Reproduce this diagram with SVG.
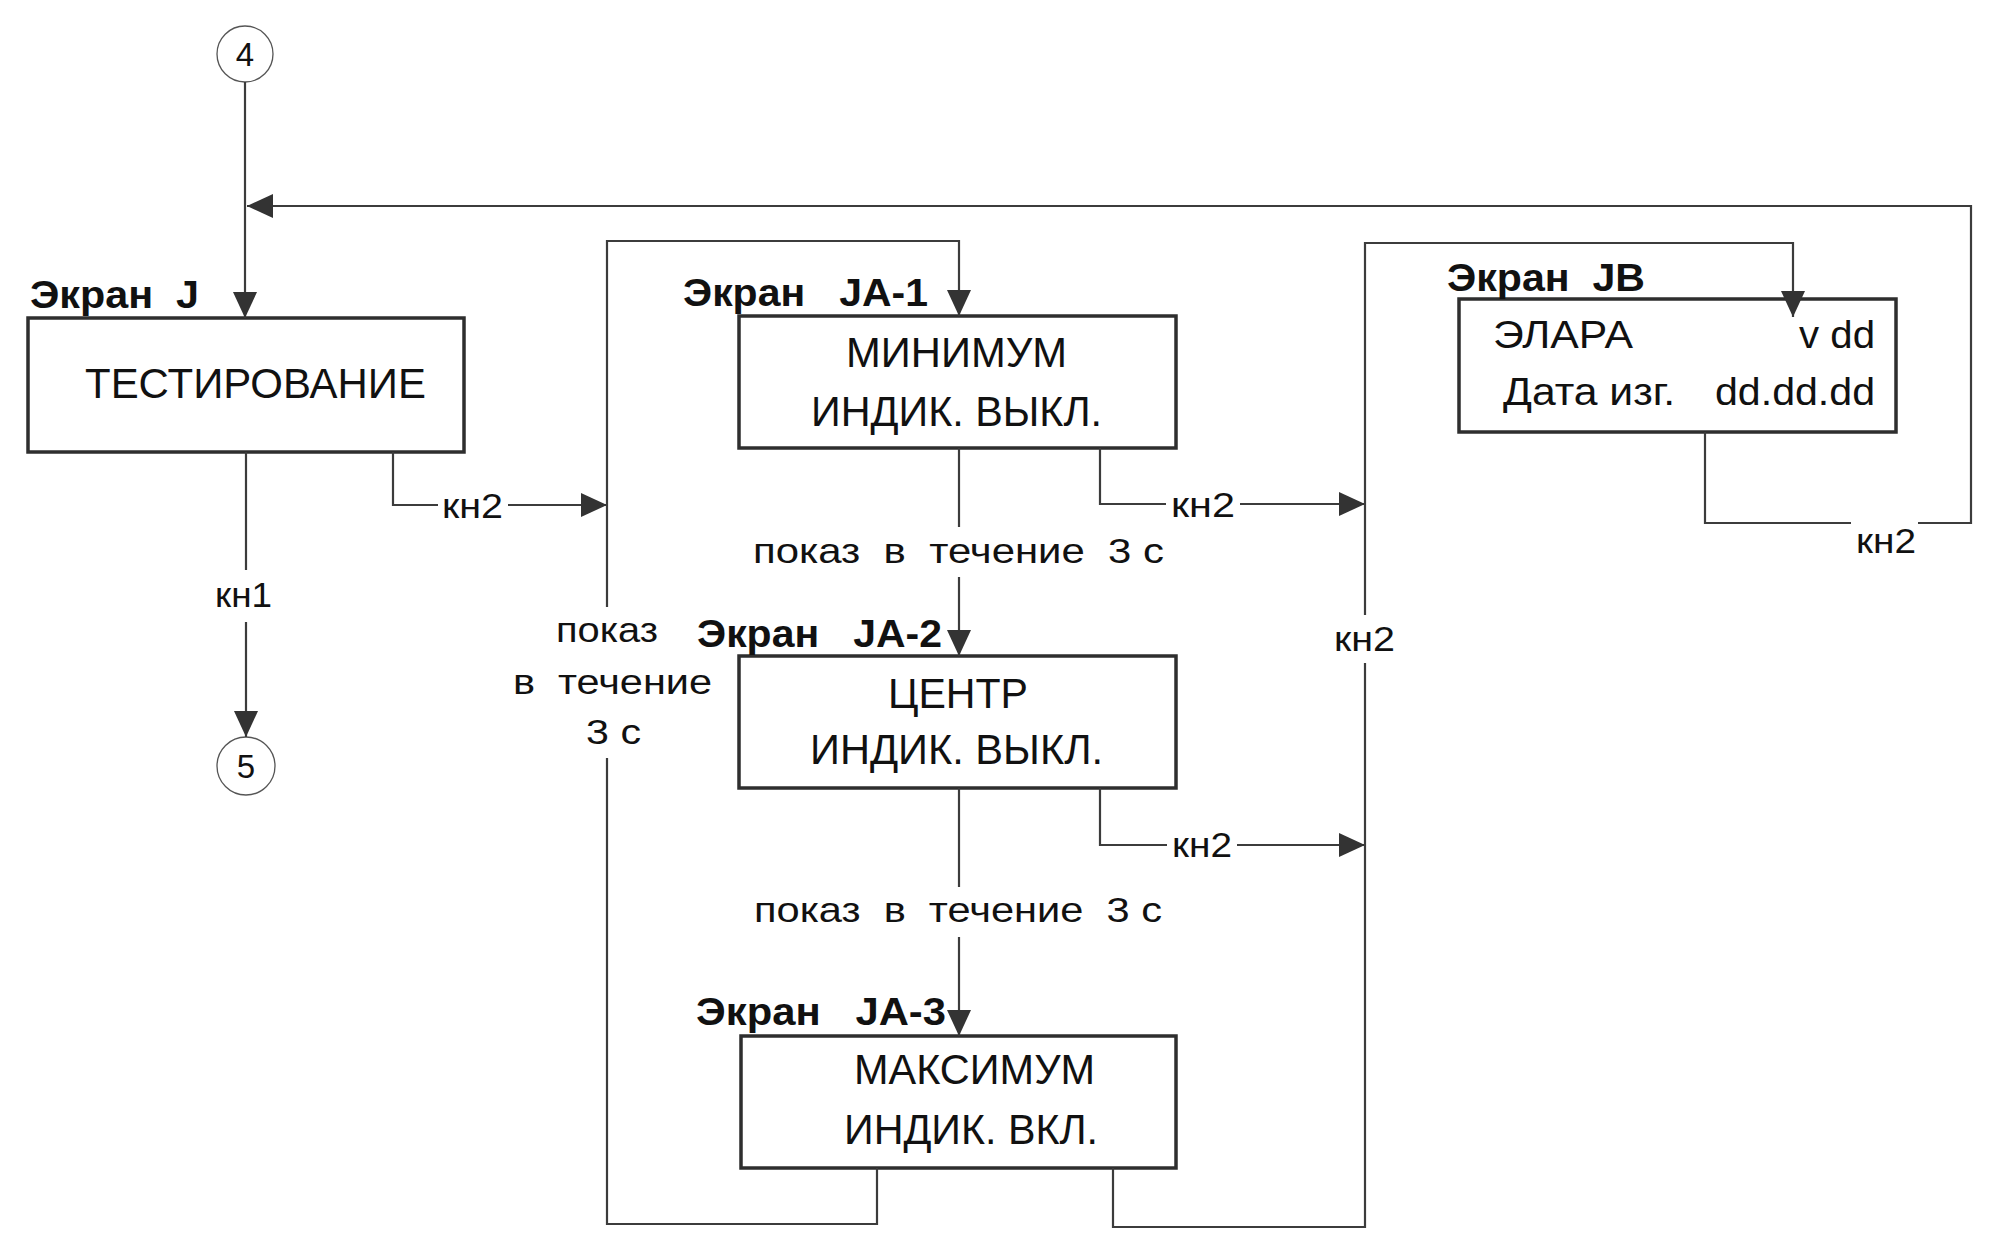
<svg xmlns="http://www.w3.org/2000/svg" width="2000" height="1260" viewBox="0 0 2000 1260">
<style>
.box{fill:#fff;stroke:#2e2e2e;stroke-width:3.5}
.ln{fill:none;stroke:#3c3c3c;stroke-width:2.2}
.circ{fill:#fff;stroke:#555;stroke-width:1.3}
text{font-family:"Liberation Sans",Arial,sans-serif;fill:#111}
.hdr{font-size:39px;font-weight:bold}
.main{font-size:43px}
.jb{font-size:38px}
.lbl{font-size:35px}
.num{font-size:33px;text-anchor:middle}
.bg{fill:#fff;stroke:none}
</style>
<defs>
<marker id="ah" markerUnits="userSpaceOnUse" markerWidth="26" markerHeight="24" refX="26" refY="12" orient="auto">
<path d="M0,0 L26,12 L0,24 z" fill="#333"/>
</marker>
</defs>
<rect width="2000" height="1260" fill="#fff"/>

<g id="c4">
<circle class="circ" cx="245" cy="54" r="28"/>
<text class="num" x="245" y="66">4</text>
</g>
<g id="c5">
<circle class="circ" cx="246" cy="766" r="29"/>
<text class="num" x="246" y="778">5</text>
</g>

<g id="screenJ">
<rect class="box" x="28" y="318" width="436" height="134"/>
<text class="hdr" x="30" y="308" textLength="169" lengthAdjust="spacingAndGlyphs" xml:space="preserve">Экран  J</text>
<text class="main" x="85" y="398" textLength="341" lengthAdjust="spacingAndGlyphs">ТЕСТИРОВАНИЕ</text>
</g>

<g id="screenJA1">
<rect class="box" x="739" y="316" width="437" height="132"/>
<text class="hdr" x="683" y="306" textLength="245" lengthAdjust="spacingAndGlyphs" xml:space="preserve">Экран   JA-1</text>
<text class="main" x="846" y="367" textLength="221" lengthAdjust="spacingAndGlyphs">МИНИМУМ</text>
<text class="main" x="811" y="426" textLength="291" lengthAdjust="spacingAndGlyphs">ИНДИК. ВЫКЛ.</text>
</g>

<g id="screenJA2">
<rect class="box" x="739" y="656" width="437" height="132"/>
<text class="hdr" x="697" y="647" textLength="245" lengthAdjust="spacingAndGlyphs" xml:space="preserve">Экран   JA-2</text>
<text class="main" x="888" y="708" textLength="140" lengthAdjust="spacingAndGlyphs">ЦЕНТР</text>
<text class="main" x="810" y="764" textLength="293" lengthAdjust="spacingAndGlyphs">ИНДИК. ВЫКЛ.</text>
</g>

<g id="screenJA3">
<rect class="box" x="741" y="1036" width="435" height="132"/>
<text class="hdr" x="696" y="1025" textLength="250" lengthAdjust="spacingAndGlyphs" xml:space="preserve">Экран   JA-3</text>
<text class="main" x="854" y="1084" textLength="241" lengthAdjust="spacingAndGlyphs">МАКСИМУМ</text>
<text class="main" x="844" y="1144" textLength="254" lengthAdjust="spacingAndGlyphs">ИНДИК. ВКЛ.</text>
</g>

<g id="screenJB">
<rect class="box" x="1459" y="299" width="437" height="133"/>
<text class="hdr" x="1447" y="291" textLength="198" lengthAdjust="spacingAndGlyphs" xml:space="preserve">Экран  JB</text>
<text class="jb" x="1493" y="348" textLength="140" lengthAdjust="spacingAndGlyphs">ЭЛАРА</text>
<text class="jb" x="1799" y="348" textLength="76" lengthAdjust="spacingAndGlyphs">v dd</text>
<text class="jb" x="1503" y="405" textLength="172" lengthAdjust="spacingAndGlyphs">Дата изг.</text>
<text class="jb" x="1715" y="405" textLength="160" lengthAdjust="spacingAndGlyphs">dd.dd.dd</text>
</g>

<g id="connectors">
<path class="ln" d="M245,82 V318" marker-end="url(#ah)"/>
<path class="ln" d="M1705,432 V523 H1971 V206 H247" marker-end="url(#ah)"/>
<path class="ln" d="M246,452 V737" marker-end="url(#ah)"/>
<path class="ln" d="M393,452 V505 H607" marker-end="url(#ah)"/>
<path class="ln" d="M877,1168 V1224 H607 V241 H959 V316" marker-end="url(#ah)"/>
<path class="ln" d="M959,448 V656" marker-end="url(#ah)"/>
<path class="ln" d="M959,788 V1036" marker-end="url(#ah)"/>
<path class="ln" d="M1100,448 V504 H1365" marker-end="url(#ah)"/>
<path class="ln" d="M1100,788 V845 H1365" marker-end="url(#ah)"/>
<path class="ln" d="M1113,1168 V1227 H1365 V243 H1793 V317" marker-end="url(#ah)"/>
<rect class="bg" x="1851" y="518" width="67" height="10"/>
<rect class="bg" x="240" y="570" width="12" height="52"/>
<rect class="bg" x="438" y="500" width="70" height="10"/>
<rect class="bg" x="600" y="607" width="14" height="151"/>
<rect class="bg" x="953" y="527" width="12" height="50"/>
<rect class="bg" x="953" y="887" width="12" height="50"/>
<rect class="bg" x="1166" y="499" width="74" height="10"/>
<rect class="bg" x="1167" y="840" width="70" height="10"/>
<rect class="bg" x="1359" y="615" width="12" height="48"/>
<text class="lbl" x="1856" y="553" textLength="60" lengthAdjust="spacingAndGlyphs">кн2</text>
<text class="lbl" x="215" y="607" textLength="57" lengthAdjust="spacingAndGlyphs">кн1</text>
<text class="lbl" x="442" y="518" textLength="61" lengthAdjust="spacingAndGlyphs">кн2</text>
<text class="lbl" x="556" y="642" textLength="102" lengthAdjust="spacingAndGlyphs">показ</text>
<text class="lbl" x="513" y="694" textLength="199" lengthAdjust="spacingAndGlyphs" xml:space="preserve">в  течение</text>
<text class="lbl" x="586" y="744" textLength="55" lengthAdjust="spacingAndGlyphs">3 с</text>
<text class="lbl" x="753" y="563" textLength="411" lengthAdjust="spacingAndGlyphs" xml:space="preserve">показ  в  течение  3 с</text>
<text class="lbl" x="754" y="922" textLength="408" lengthAdjust="spacingAndGlyphs" xml:space="preserve">показ  в  течение  3 с</text>
<text class="lbl" x="1171" y="517" textLength="64" lengthAdjust="spacingAndGlyphs">кн2</text>
<text class="lbl" x="1172" y="857" textLength="60" lengthAdjust="spacingAndGlyphs">кн2</text>
<text class="lbl" x="1334" y="651" textLength="61" lengthAdjust="spacingAndGlyphs">кн2</text>
</g>
</svg>
